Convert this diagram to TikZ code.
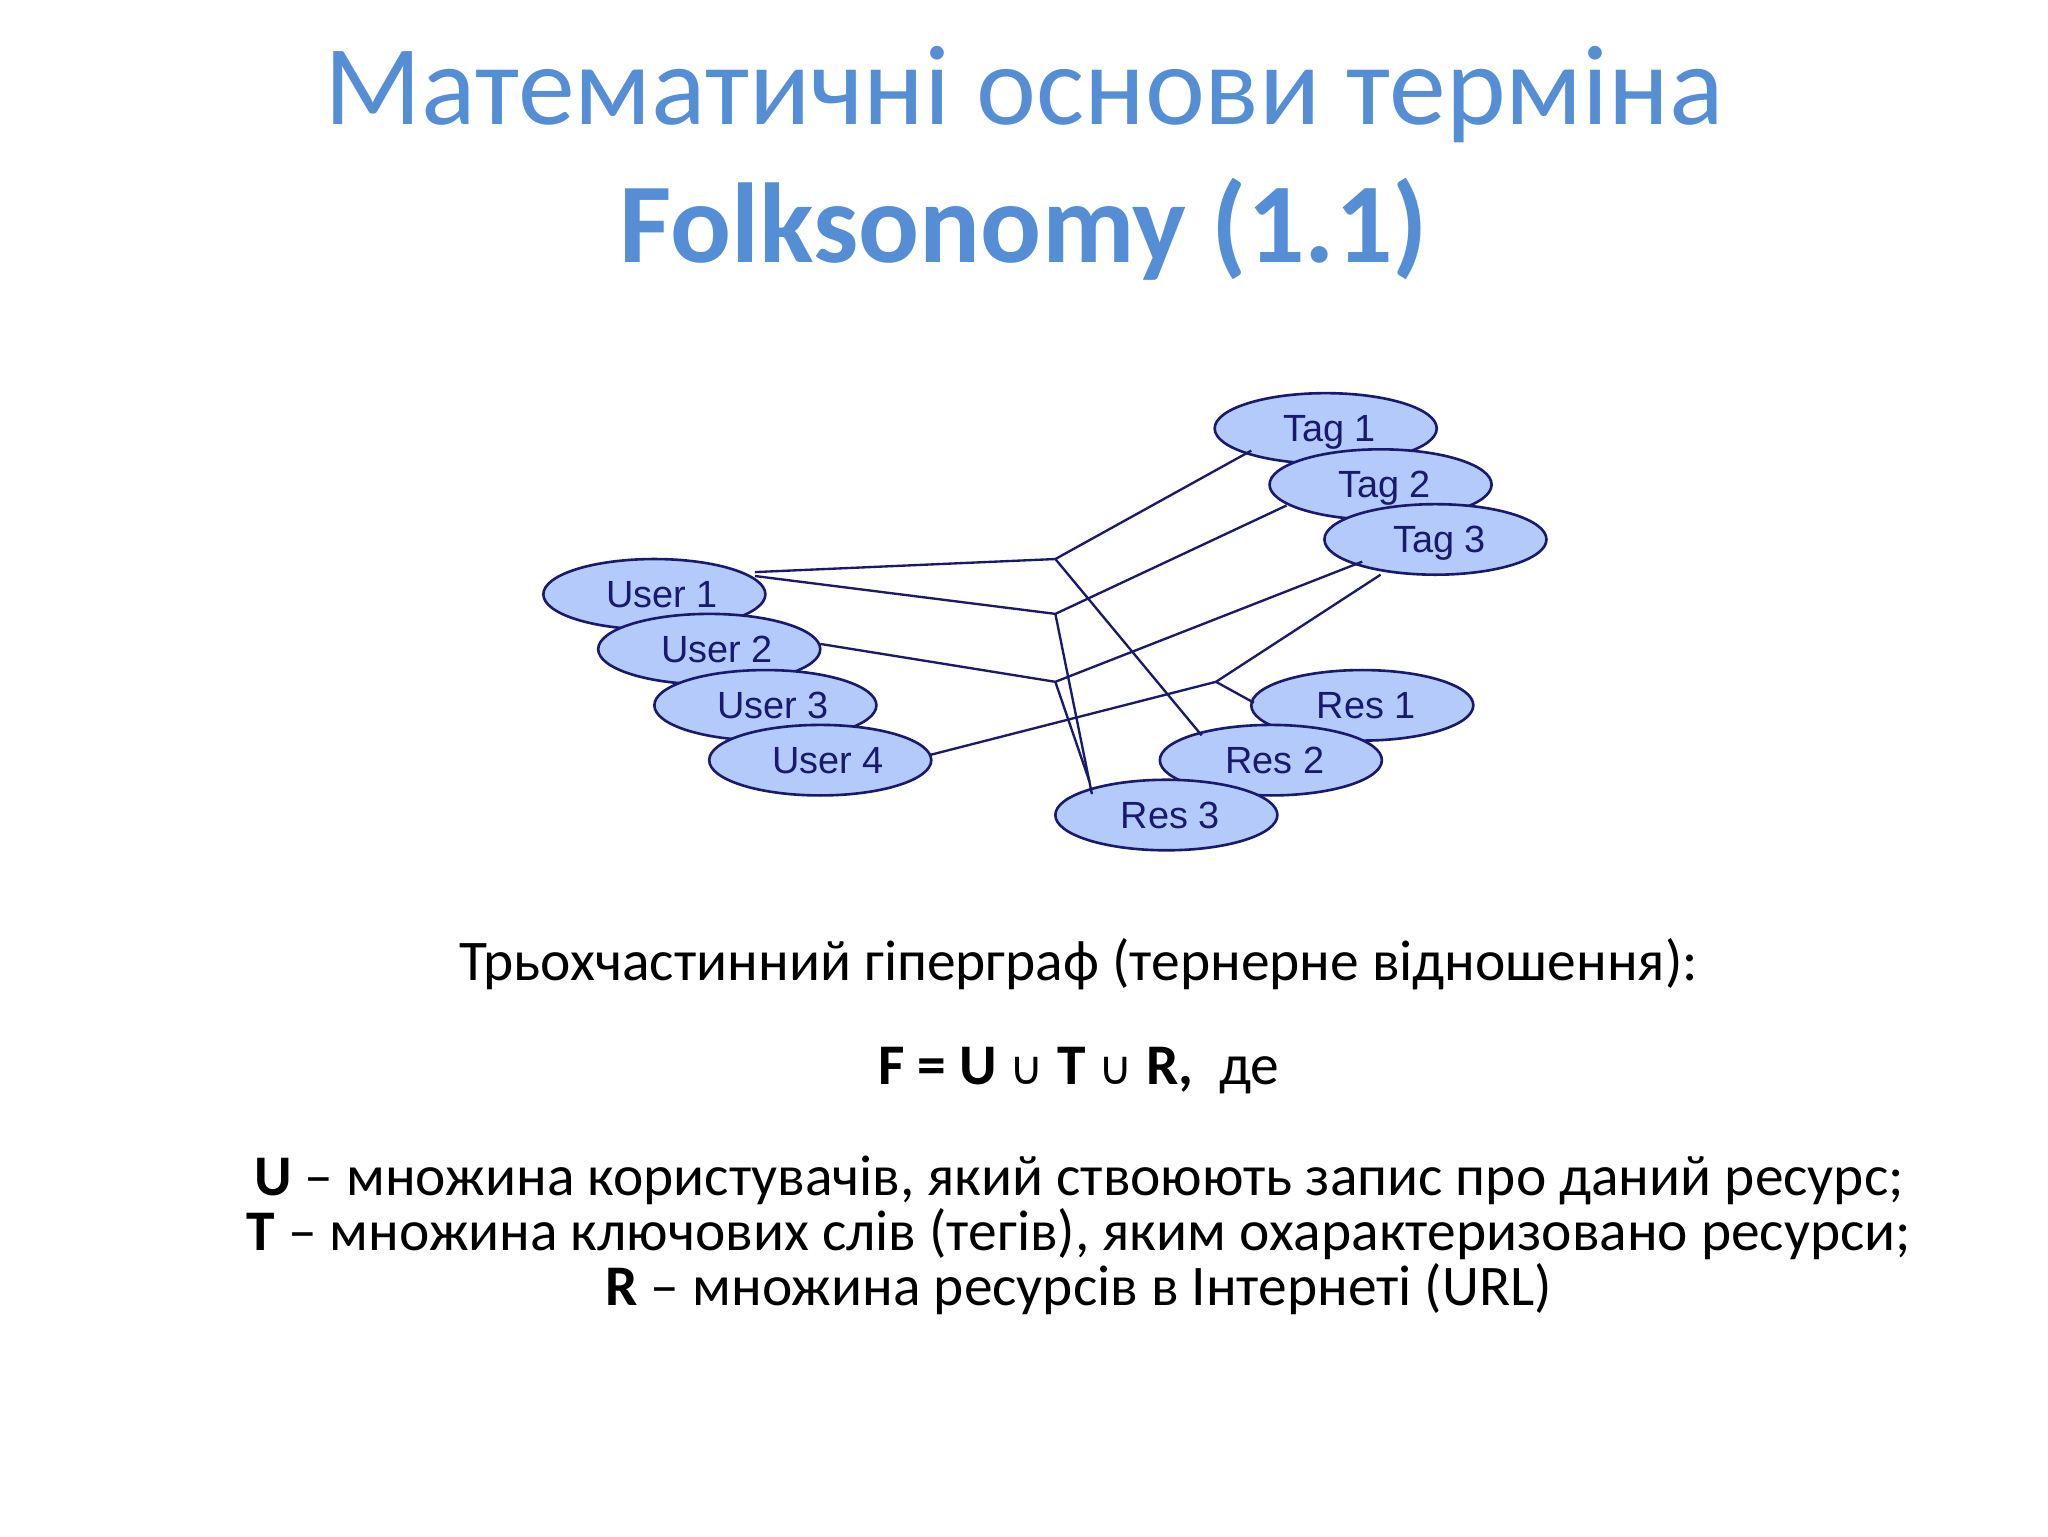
\documentclass[tikz,border=0pt]{standalone}
\usepackage{fontspec}
\setmainfont{Carlito}
\newfontfamily\arial{Liberation Sans}
\newfontfamily\djv{DejaVu Sans}
\usetikzlibrary{shapes.geometric}
\definecolor{titleblue}{RGB}{85,142,213}
\definecolor{efill}{RGB}{180,202,250}
\definecolor{edraw}{RGB}{25,25,110}
\tikzset{x=1pt,y=-1pt,
 ell/.style={ellipse,draw=edraw,fill=efill,line width=2pt,minimum width=170pt,minimum height=54pt,inner sep=0pt,font=\arial\fontsize{29}{30}\selectfont,text=edraw,text depth=0pt},
 edge/.style={draw=edraw,line width=1.8pt},
 body/.style={font=\fontsize{44}{42}\selectfont,align=center,text=black}}
\begin{document}
\begin{tikzpicture}
\fill[white] (0,0) rectangle (1568,1176);
\node[text=titleblue,font=\fontsize{87}{106}\selectfont,align=center] (title) at (784,125) {Математичні основи терміна\\\textbf{Folksonomy (1.1)}};
\node[ell] (t1) at (1015,328) {\hspace*{6pt}Tag 1};
\node[ell] (t2) at (1057,371) {\hspace*{6pt}Tag 2};
\node[ell] (t3) at (1099,413) {\hspace*{6pt}Tag 3};
\node[ell] (u1) at (501,455) {\hspace*{12pt}User 1};
\node[ell] (u2) at (543,497) {\hspace*{12pt}User 2};
\node[ell] (u3) at (586,540) {\hspace*{12pt}User 3};
\node[ell] (u4) at (628,582) {\hspace*{12pt}User 4};
\node[ell] (r1) at (1043,540) {\hspace*{6pt}Res 1};
\node[ell] (r2) at (973,582) {\hspace*{6pt}Res 2};
\node[ell] (r3) at (893,624) {\hspace*{6pt}Res 3};
\coordinate (j1) at (808,428);
\coordinate (j2) at (808,470);
\coordinate (j3) at (808,522);
\coordinate (j4) at (931,522);
\coordinate (u1a) at (578,438);
\coordinate (u1b) at (578,441);
\coordinate (u2a) at (628,493);
\coordinate (u4a) at (712,578);
\coordinate (t1a) at (958,345);
\coordinate (t2a) at (985,387);
\coordinate (t3a) at (1043,430);
\coordinate (t3b) at (1057,440);
\coordinate (r1a) at (960,538);
\coordinate (r2a) at (920,563);
\coordinate (r3a) at (836,608);
\coordinate (r3b) at (834,598);
\draw[edge] (u1a) -- (j1) -- (t1a);
\draw[edge] (j1) -- (r2a);
\draw[edge] (u1b) -- (j2) -- (t2a);
\draw[edge] (j2) -- (r3a);
\draw[edge] (u2a) -- (j3) -- (t3a);
\draw[edge] (j3) -- (r3b);
\draw[edge] (u4a) -- (j4) -- (t3b);
\draw[edge] (j4) -- (r1a);
\node[body] (l1) at (826,738) {Трьохчастинний гіперграф (тернерне відношення):};
\node[body] (l2) at (826,820) {\textbf{F = U} {\djv\fontsize{36}{40}\selectfont ∪} \textbf{T} {\djv\fontsize{36}{40}\selectfont ∪} \textbf{R,}\ \ де};
\node[body] (l3) at (826,946) {\textbf{U} – множина користувачів, який ствоюють запис про даний ресурс;\\\textbf{T} – множина ключових слів (тегів), яким охарактеризовано ресурси;\\\textbf{R} – множина ресурсів в Інтернеті (URL)};
\end{tikzpicture}
\end{document}
